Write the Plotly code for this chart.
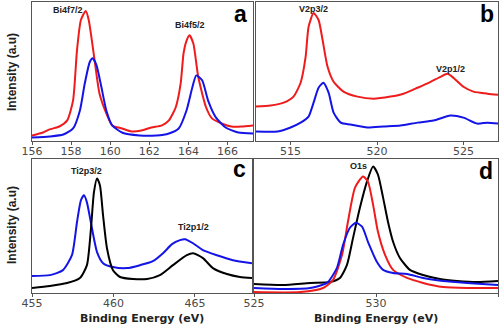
import plotly.graph_objects as go

# ---------------- data (binding energy eV, intensity a.u.) ----------------
# Panel a : Bi 4f
a_red_x = [156.0, 156.56, 156.9, 157.4, 157.8, 158.1, 158.3, 158.5, 158.75, 158.9, 159.2, 159.45, 159.8, 160.1,
           160.6, 161.1, 161.6, 162.1, 162.65, 163.0, 163.35, 163.6, 163.75, 163.9, 164.05, 164.25, 164.5, 164.9,
           165.2, 165.7, 166.2, 166.7, 167.3]
a_red_y = [3.6, 5.8, 8.0, 10.1, 14.5, 29, 65, 87, 93.5, 87, 58, 34, 19.6, 10.9,
           8.7, 6.5, 7.2, 9.4, 10.9, 14.5, 24, 41, 63, 72, 76, 70, 46, 24,
           16, 12.3, 10.1, 10.1, 10.9]
a_blue_x = [156.0, 156.9, 157.6, 158.1, 158.45, 158.7, 158.95, 159.1, 159.3, 159.55, 159.8, 160.1, 160.6, 161.5,
            162.35, 163.0, 163.5, 163.9, 164.2, 164.4, 164.7, 165.0, 165.4, 165.9, 166.55, 167.3]
a_blue_y = [2.2, 2.9, 4.3, 8.7, 21.7, 41.3, 56.5, 59.4, 54.3, 38.4, 21.7, 10.9, 5.8, 3.6,
            3.6, 5.1, 8.7, 21.7, 38.4, 47, 43.5, 29, 16.7, 9.4, 5.8, 5.1]

# Panel b : V 2p
b_red_x = [513.0, 513.84, 514.6, 515.17, 515.58, 515.87, 516.04, 516.33, 516.62, 516.85, 517.14, 517.49, 518.06,
           518.87, 519.8, 520.78, 521.53, 522.34, 523.1, 523.67, 524.08, 524.42, 525.0, 525.58, 526.39, 527.0]
b_red_y = [24.5, 25.2, 27.3, 31.7, 41.7, 60.4, 82, 92, 87, 72.7, 53.2, 42.4, 35.3,
           31.7, 30.2, 31.7, 33.8, 38.1, 42.4, 46, 48.2, 45.3, 38.8, 35.3, 33.8, 33.1]
b_blue_x = [513.0, 514.25, 515.0, 515.58, 516.04, 516.33, 516.62, 516.9, 517.2, 517.49, 517.9, 518.47, 519.45,
            520.38, 521.36, 522.34, 523.27, 524.25, 525.0, 525.8, 526.39, 527.0]
b_blue_y = [6.5, 6.5, 9.4, 12.9, 17.3, 27.3, 38.1, 41.7, 34.5, 20.1, 12.9, 11.5, 9.4,
            10.1, 10.8, 12.9, 14.4, 18, 16.5, 12.2, 12.9, 12.2]

# Panel c : Ti 2p
c_blue_x = [455.0, 456.1, 456.9, 457.45, 457.76, 458.0, 458.19, 458.37, 458.68, 458.99, 459.36, 459.97, 460.83,
            461.63, 462.42, 463.04, 463.59, 464.08, 464.39, 464.88, 465.49, 466.35, 467.33, 468.5]
c_blue_y = [12.6, 13.3, 17, 28.1, 52.6, 68.9, 72.6, 67.4, 48.1, 30.4, 22.2, 19.3, 18.5,
            20.7, 23.7, 29.6, 36.3, 39.3, 40, 37, 31.9, 28.1, 24.4, 22.2]
c_black_x = [455.0, 456.1, 457.15, 457.94, 458.37, 458.62, 458.8, 458.99, 459.17, 459.36, 459.6, 459.97, 460.4,
             461.2, 462.06, 462.85, 463.65, 464.5, 464.88, 465.49, 466.1, 466.96, 467.76, 468.5]
c_black_y = [3.7, 5.2, 7.4, 11.1, 20.7, 48.1, 74.8, 85.2, 80, 57.8, 33.3, 17, 11.9,
             10.4, 10.4, 13.3, 20.7, 28.1, 29.6, 25.9, 18.5, 14.1, 11.9, 11.1]

# Panel d : O 1s
d_black_x = [525.0, 526.19, 527.3, 528.11, 528.52, 528.81, 529.06, 529.34, 529.63, 529.88, 530.08, 530.29, 530.49,
             530.7, 530.98, 531.39, 531.93, 532.62, 533.32, 534.14, 535.0]
d_black_y = [6.7, 6.0, 7.5, 8.2, 11.2, 20.9, 41, 63.4, 82.8, 94, 88.1, 70.9, 53,
             38.1, 26.1, 17.2, 13.4, 10.4, 9.0, 8.2, 9.0]
d_red_x = [525.0, 526.89, 527.83, 528.24, 528.61, 528.85, 529.14, 529.47, 529.67, 529.88, 530.08, 530.37, 530.7,
           531.27, 531.93, 532.75, 533.73, 535.0]
d_red_y = [0.7, 0.7, 3.7, 9.7, 28.4, 53, 78.4, 86.6, 82.8, 65.7, 45.5, 28.4, 17.2,
           11.2, 7.5, 4.5, 3.7, 3.7]
d_blue_x = [525.0, 526.19, 527.3, 527.99, 528.4, 528.65, 528.93, 529.18, 529.43, 529.67, 530.04, 530.29, 530.7,
            531.27, 531.93, 532.75, 533.73, 535.0]
d_blue_y = [3.7, 3.0, 3.7, 7.5, 18.7, 35.8, 48.5, 52.2, 49.3, 38.1, 23.1, 17.2, 14.9,
            14.2, 11.2, 9.0, 7.5, 6.0]

a_ticks = [156, 158, 160, 162, 164, 166]
b_ticks = [515, 520, 525]
c_ticks = [455, 460, 465]
d_ticks = [525, 530, 535]

peak_labels = ["Bi4f7/2", "Bi4f5/2", "V2p3/2", "V2p1/2", "Ti2p3/2", "Ti2p1/2", "O1s"]
panel_letters = ["a", "b", "c", "d"]
x_title = "Binding Energy (eV)"
y_title = "Intensity (a.u)"

# ---------------- figure ----------------
RED = "#ee1c1c"
BLUE = "#1414e6"
BLACK = "#000000"
W, H = 504, 327

fig = go.Figure()

def add(x, y, color, xa, ya):
    fig.add_trace(go.Scatter(x=x, y=y, mode="lines", xaxis=xa, yaxis=ya,
                             line=dict(color=color, width=2, shape="spline", smoothing=0.6),
                             showlegend=False, hoverinfo="skip"))

add(a_red_x, a_red_y, RED, "x", "y")
add(a_blue_x, a_blue_y, BLUE, "x", "y")
add(b_red_x, b_red_y, RED, "x2", "y2")
add(b_blue_x, b_blue_y, BLUE, "x2", "y2")
add(c_blue_x, c_blue_y, BLUE, "x3", "y3")
add(c_black_x, c_black_y, BLACK, "x3", "y3")
add(d_black_x, d_black_y, BLACK, "x4", "y4")
add(d_red_x, d_red_y, RED, "x4", "y4")
add(d_blue_x, d_blue_y, BLUE, "x4", "y4")

def px_x(p):
    return p / W

def px_y(p):
    return 1 - p / H

frame = dict(showline=True, linecolor="#555555", linewidth=1, mirror=True, showgrid=False, zeroline=False,
             automargin=False)
tickfont = dict(family="DejaVu Sans, Verdana, sans-serif", size=11, color="#4a4a4a")

def xax(dom, rng, ticks, anchor):
    return dict(domain=dom, range=rng, tickvals=ticks, ticks="outside", ticklen=3, tickcolor="#555555",
                ticklabelstandoff=-3, tickfont=tickfont, anchor=anchor, **frame)

def yax(dom, anchor):
    return dict(domain=dom, range=[0, 100], showticklabels=False, ticks="", anchor=anchor, **frame)

top = [px_y(140.5), px_y(2)]
bot = [px_y(293), px_y(158.5)]

fig.update_layout(
    width=W, height=H, margin=dict(l=0, r=0, t=0, b=0, pad=0, autoexpand=False),
    paper_bgcolor="white", plot_bgcolor="white",
    xaxis=xax([px_x(32), px_x(253)], [156, 167.3], a_ticks, "y"),
    yaxis=yax(top, "x"),
    xaxis2=xax([px_x(256), px_x(498)], [513, 527], b_ticks, "y2"),
    yaxis2=yax(top, "x2"),
    xaxis3=xax([px_x(32), px_x(252)], [455, 468.5], c_ticks, "y3"),
    yaxis3=yax(bot, "x3"),
    xaxis4=xax([px_x(254), px_x(498)], [525, 535], d_ticks, "y4"),
    yaxis4=yax(bot, "x4"),
)

ann = []
lab_font = dict(family="Liberation Sans, Arial, sans-serif", size=9, color="#222222")
peak_pos = [(68, 10), (190, 25), (313, 9), (450, 69), (86, 171), (193, 227), (358, 166)]
for t, (x, y) in zip(peak_labels, peak_pos):
    ann.append(dict(text="<b>%s</b>" % t, x=px_x(x), y=px_y(y), xref="paper", yref="paper",
                    showarrow=False, font=lab_font, xanchor="center", yanchor="middle"))
letter_pos = [(240, 14), (487, 14), (239, 169), (486, 171)]
for t, (x, y) in zip(panel_letters, letter_pos):
    ann.append(dict(text="<b>%s</b>" % t, x=px_x(x), y=px_y(y), xref="paper", yref="paper",
                    showarrow=False, font=dict(family="Liberation Sans, Arial, sans-serif", size=23, color="#000000"),
                    xanchor="center", yanchor="middle"))
for (x, y) in [(142, 318.5), (376, 318.5)]:
    ann.append(dict(text="<b>%s</b>" % x_title, x=px_x(x), y=px_y(y), xref="paper", yref="paper",
                    showarrow=False, font=dict(family="DejaVu Sans, Verdana, sans-serif", size=11, color="#222222"),
                    xanchor="center", yanchor="middle"))
for (x, y) in [(12, 72), (12, 225)]:
    ann.append(dict(text="<b>%s</b>" % y_title, x=px_x(x), y=px_y(y), xref="paper", yref="paper",
                    showarrow=False, textangle=-90,
                    font=dict(family="Liberation Sans, Arial, sans-serif", size=12, color="#222222"),
                    xanchor="center", yanchor="middle"))
fig.update_layout(annotations=ann)

fig.write_html("out.html")
